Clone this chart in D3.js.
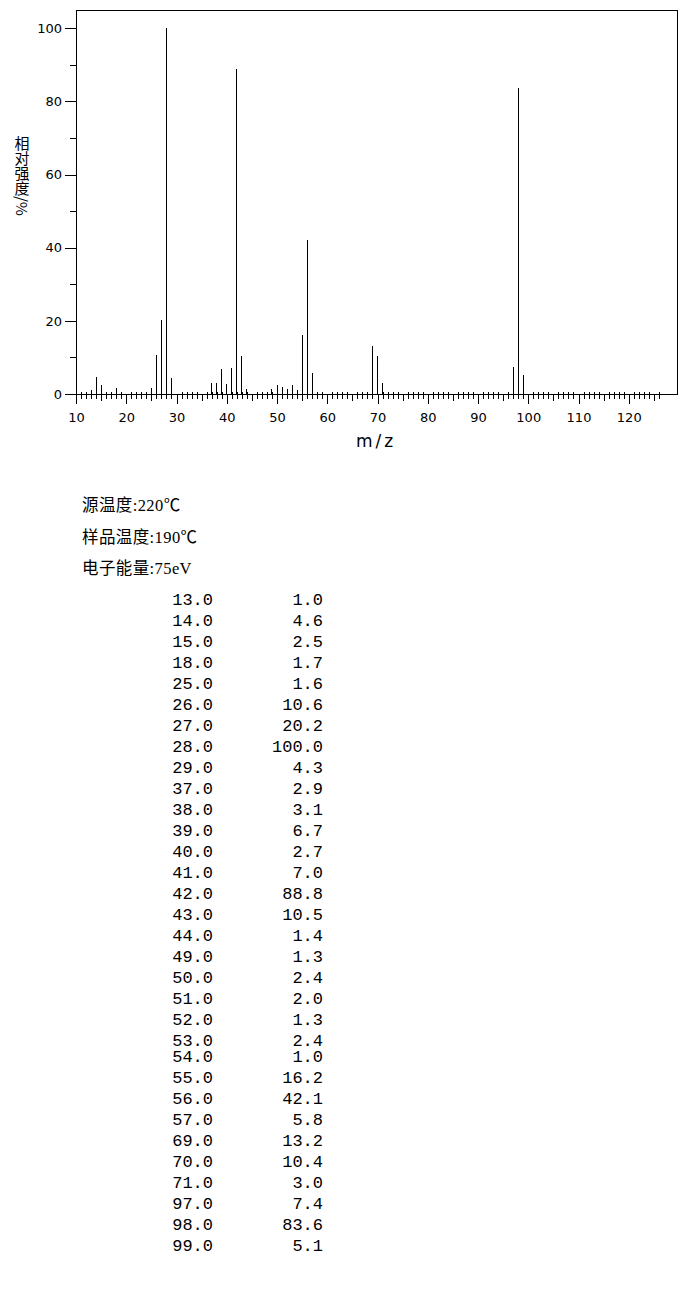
<!DOCTYPE html>
<html>
<head>
<meta charset="utf-8">
<script src="https://cdn.jsdelivr.net/npm/d3@7"></script>
<style>
  body { margin: 0; background: #fff; }
</style>
</head>
<body>
<div id="chart"></div>
<script>
const w = 687;
const h = 1304;

// spectrum peaks (m/z, relative intensity %)
const mz = [13, 14, 15, 18, 25, 26, 27, 28, 29, 37, 38, 39, 40, 41, 42, 43, 44,
            49, 50, 51, 52, 53, 54, 55, 56, 57, 69, 70, 71, 97, 98, 99];
const intensity = [1.0, 4.6, 2.5, 1.7, 1.6, 10.6, 20.2, 100.0, 4.3, 2.9, 3.1, 6.7, 2.7, 7.0, 88.8, 10.5, 1.4,
                   1.3, 2.4, 2.0, 1.3, 2.4, 1.0, 16.2, 42.1, 5.8, 13.2, 10.4, 3.0, 7.4, 83.6, 5.1];
const yMajor = [0, 20, 40, 60, 80, 100];
const yMinor = [10, 30, 50, 70, 90];
const xMajor = [10, 20, 30, 40, 50, 60, 70, 80, 90, 100, 110, 120];
const yTitle = "相对强度/%";
const conditions = ["源温度:220℃", "样品温度:190℃", "电子能量:75eV"];

let svg = d3.select("div#chart").append("svg")
    .attr("width", w).attr("height", h)
    .style("display", "block")
    .style("background-color", "#ffffff");

let x = d3.scaleLinear().domain([10, 129.6]).range([76, 677]);
let y = d3.scaleLinear().domain([0, 105]).range([394, 10]);

// frame
svg.append("rect")
    .attr("x", 76).attr("y", 10)
    .attr("width", 601).attr("height", 384)
    .attr("fill", "none").attr("stroke", "#000").attr("stroke-width", 1)
    .attr("shape-rendering", "crispEdges");

// x axis: minor ticks cross the baseline, labelled ticks every 10
const xMinorVals = d3.range(11, 127).filter(d => d % 5 !== 0);
const xMidVals = d3.range(15, 127, 10);

let xMinorAxis = svg.append("g").attr("transform", "translate(0,394)")
    .call(d3.axisBottom(x).tickValues(xMinorVals).tickSize(5).tickFormat(""));
xMinorAxis.selectAll("line").attr("y1", -2);

svg.append("g").attr("transform", "translate(0,394)")
    .call(d3.axisBottom(x).tickValues(xMidVals).tickSize(6.5).tickFormat(""));

svg.append("g").attr("transform", "translate(0,394)")
    .call(d3.axisBottom(x).tickValues(xMajor).tickSize(10).tickPadding(9))
    .attr("font-family", "DejaVu Sans").attr("font-size", 13);

// y axis
svg.append("g").attr("transform", "translate(76,0)")
    .call(d3.axisLeft(y).tickValues(yMajor).tickSize(11).tickPadding(3))
    .attr("font-family", "DejaVu Sans").attr("font-size", 13);

svg.append("g").attr("transform", "translate(76,0)")
    .call(d3.axisLeft(y).tickValues(yMinor).tickSize(6).tickFormat(""));

svg.selectAll(".domain").remove();
svg.selectAll(".tick line").attr("shape-rendering", "crispEdges");

// peaks
svg.append("g").selectAll("line")
    .data(mz)
    .join("line")
    .attr("x1", d => x(d)).attr("x2", d => x(d))
    .attr("y1", y(0))
    .attr("y2", (d, i) => y(intensity[i]))
    .attr("stroke", "#000").attr("stroke-width", 1)
    .attr("shape-rendering", "crispEdges");

// axis titles
svg.append("text")
    .attr("x", 22).attr("y", 136)
    .style("writing-mode", "vertical-rl")
    .attr("font-family", "'Noto Sans CJK SC'")
    .attr("font-size", 15)
    .text(yTitle);

svg.append("text")
    .attr("x", 376).attr("y", 447)
    .attr("text-anchor", "middle")
    .attr("font-family", "DejaVu Sans")
    .attr("font-size", 17)
    .attr("letter-spacing", 3)
    .text("m/z");

// measurement conditions
svg.append("g").selectAll("text")
    .data(conditions)
    .join("text")
    .attr("x", 82)
    .attr("y", (d, i) => 511 + i * 31.5)
    .attr("font-family", "'Liberation Serif', 'Noto Sans CJK SC'")
    .attr("font-size", 16.5)
    .attr("letter-spacing", 0.4)
    .text(d => d);

// peak table
const rowY = i => 605 + i * 21 - (i >= 22 ? 5 : 0);
let rows = svg.append("g")
    .attr("font-family", "Liberation Mono")
    .attr("font-size", 17)
    .attr("text-anchor", "end");

rows.selectAll("text.mz")
    .data(mz)
    .join("text")
    .attr("class", "mz")
    .attr("x", 213)
    .attr("y", (d, i) => rowY(i))
    .text(d => d.toFixed(1));

rows.selectAll("text.int")
    .data(intensity)
    .join("text")
    .attr("class", "int")
    .attr("x", 323)
    .attr("y", (d, i) => rowY(i))
    .text(d => d.toFixed(1));
</script>
</body>
</html>
